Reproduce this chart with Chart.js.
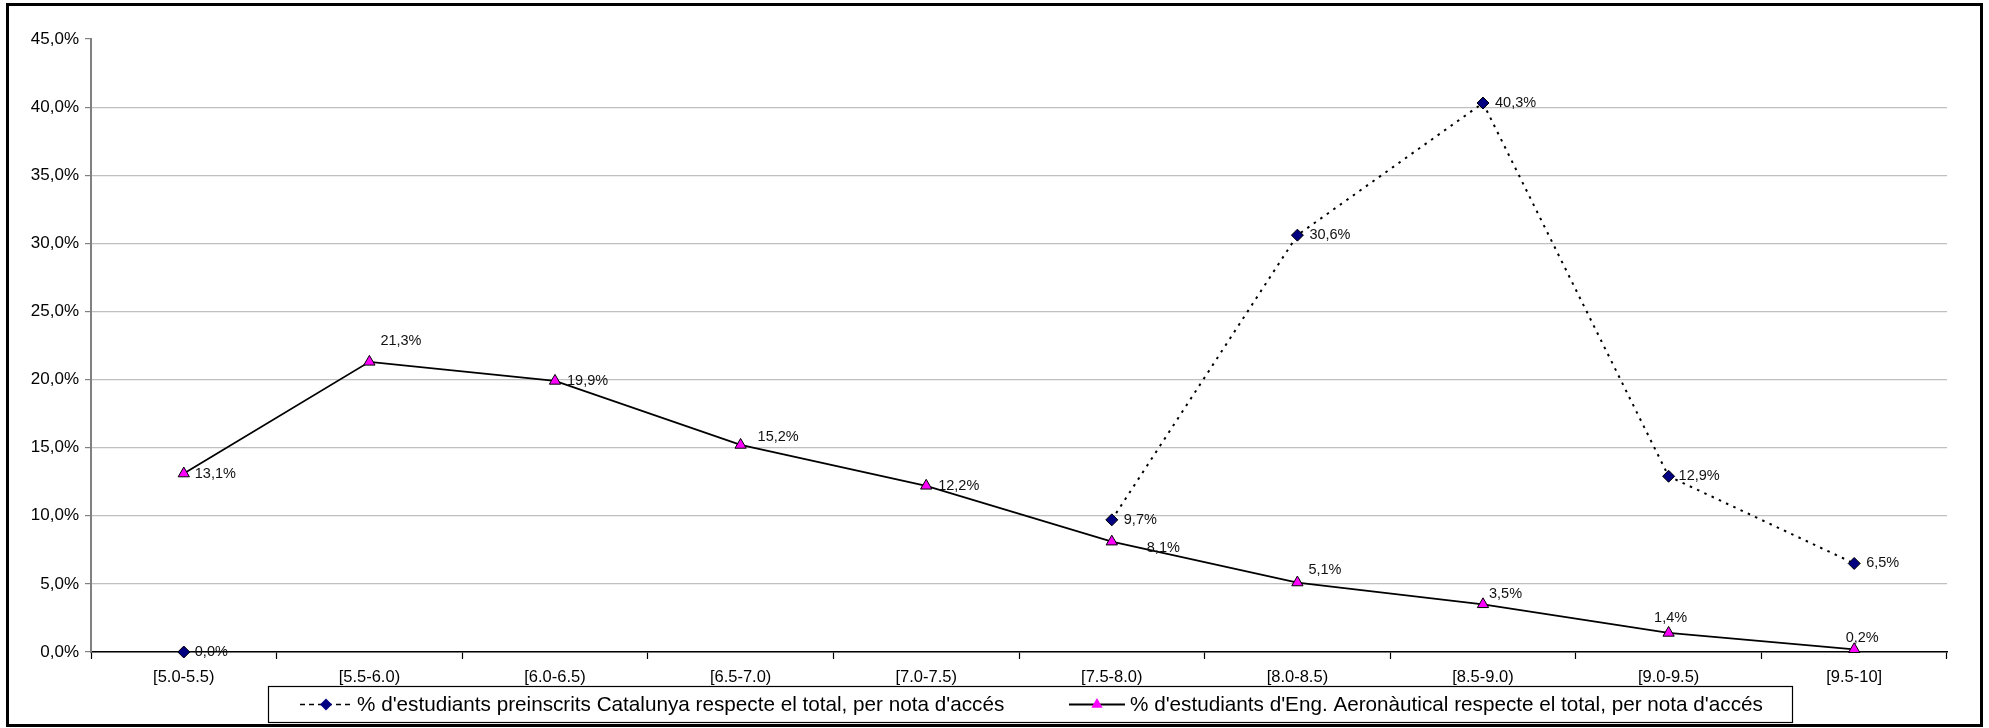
<!DOCTYPE html>
<html><head><meta charset="utf-8">
<script src="https://cdn.jsdelivr.net/npm/chart.js@4.4.1/dist/chart.umd.min.js"></script>
<style>html,body{margin:0;padding:0;background:#fff;}canvas{display:block}</style>
</head><body>
<canvas id="c" width="1989" height="728"></canvas>
<script>
const categories = ['[5.0-5.5)', '[5.5-6.0)', '[6.0-6.5)', '[6.5-7.0)', '[7.0-7.5)', '[7.5-8.0)', '[8.0-8.5)', '[8.5-9.0)', '[9.0-9.5)', '[9.5-10]'];
const catalunyaPct = [0.0, null, null, null, null, 9.7, 30.6, 40.3, 12.9, 6.5];
const aeroPct = [13.1, 21.3, 19.9, 15.2, 12.2, 8.1, 5.1, 3.5, 1.4, 0.2];
const seriesNames = [
  "% d'estudiants preinscrits Catalunya respecte el total, per nota d'accés",
  "% d'estudiants d'Eng. Aeronàutical respecte el total, per nota d'accés"
];
const yMin = 0, yMax = 45, yStep = 5;

const FONT = '"Liberation Sans", Arial, sans-serif';
const fmt = v => v.toFixed(1).replace('.', ',') + '%';

// label placement styles (dx, dy, align) per dataset/point
const labelStyle = [
  [[11,0,'left'],null,null,null,null,[12,0,'left'],[12,0,'left'],[12,0,'left'],[10,0,'left'],[12,0,'left']],
  [[11,0,'left'],[11,-21,'left'],[12,0,'left'],[17,-8,'left'],[12,0,'left'],[35,6,'left'],[11,-13,'left'],[6,-10,'left'],[2,-15,'center'],[8,-11,'center']]
];

const dataLabels = {
  id: 'dataLabels',
  afterDatasetsDraw(chart) {
    const ctx = chart.ctx;
    ctx.save();
    ctx.font = '14.5px ' + FONT;
    ctx.fillStyle = '#111';
    ctx.textBaseline = 'middle';
    chart.data.datasets.forEach((ds, di) => {
      const meta = chart.getDatasetMeta(di);
      meta.data.forEach((pt, i) => {
        const v = ds.data[i];
        if (v === null || v === undefined) return;
        const s = labelStyle[di][i] || [11,0,'left'];
        ctx.textAlign = s[2];
        ctx.fillText(fmt(v), pt.x + s[0], pt.y + s[1]);
      });
    });
    ctx.restore();
  }
};

const frameAndLegend = {
  id: 'frameAndLegend',
  afterDraw(chart) {
    const ctx = chart.ctx;
    ctx.save();
    // legend box
    const bx = 268, by = 686, bw = 1524, bh = 36;
    ctx.fillStyle = '#fff';
    ctx.fillRect(bx, by, bw, bh);
    ctx.strokeStyle = '#000';
    ctx.lineWidth = 1.2;
    ctx.strokeRect(bx + 0.5, by + 0.5, bw, bh);
    const cy = by + bh / 2 + 0.5;
    const items = [
      {x0: 300, x1: 352, tx: 357, ds: 0},
      {x0: 1069, x1: 1125, tx: 1130, ds: 1}
    ];
    items.forEach(it => {
      const d = chart.data.datasets[it.ds];
      ctx.strokeStyle = '#000';
      ctx.lineWidth = it.ds === 0 ? 1.6 : d.borderWidth;
      ctx.setLineDash(it.ds === 0 ? [5, 4] : []);
      ctx.beginPath();
      ctx.moveTo(it.x0, cy);
      ctx.lineTo(it.x1, cy);
      ctx.stroke();
      ctx.setLineDash([]);
      ctx.fillStyle = d.pointBackgroundColor;
      ctx.strokeStyle = d.pointBorderColor;
      ctx.lineWidth = 1;
      const opts = {pointStyle: d.pointStyle, radius: d.pointRadius, rotation: 0};
      Chart.helpers.drawPoint(ctx, opts, (it.x0 + it.x1) / 2, cy);
      ctx.fillStyle = '#000';
      ctx.font = '20.7px ' + FONT;
      ctx.textAlign = 'left';
      ctx.textBaseline = 'middle';
      ctx.fillText(seriesNames[it.ds], it.tx, cy + 1);
    });
    // outer frame
    ctx.strokeStyle = '#000';
    ctx.lineWidth = 3;
    ctx.strokeRect(7.5, 4.5, 1974, 721);
    ctx.restore();
  }
};

new Chart(document.getElementById('c'), {
  type: 'line',
  data: {
    labels: categories,
    datasets: [
      {
        label: seriesNames[0],
        data: catalunyaPct,
        borderColor: '#000',
        borderWidth: 2,
        borderDash: [2.5, 5.5],
        pointStyle: 'rectRot',
        pointRadius: 6,
        pointBackgroundColor: '#000080',
        pointBorderColor: '#000',
        pointBorderWidth: 1,
        spanGaps: false,
        tension: 0,
        clip: false,
        fill: false
      },
      {
        label: seriesNames[1],
        data: aeroPct,
        borderColor: '#000',
        borderWidth: 1.8,
        pointStyle: 'triangle',
        pointRadius: 6.5,
        pointBackgroundColor: '#FF00FF',
        pointBorderColor: '#000',
        pointBorderWidth: 1,
        tension: 0,
        clip: false,
        fill: false
      }
    ]
  },
  options: {
    responsive: false,
    animation: false,
    devicePixelRatio: 1,
    events: [],
    layout: { padding: { left: 0, right: 42, top: 39, bottom: 36 } },
    plugins: { legend: { display: false }, tooltip: { enabled: false }, title: { display: false } },
    scales: {
      x: {
        type: 'category',
        offset: true,
        grid: { offset: true, drawOnChartArea: false, tickLength: 7, tickColor: '#000', tickWidth: 1.2 },
        border: { color: '#000', width: 1.5 },
        ticks: { autoSkip: false, maxRotation: 0, minRotation: 0, padding: 9, color: '#000', font: { family: FONT, size: 16.5 } },
        afterFit(s) { s.height = 40; }
      },
      y: {
        min: yMin, max: yMax,
        ticks: { stepSize: yStep, padding: 6, color: '#000', font: { family: FONT, size: 17 }, callback: v => fmt(v) },
        grid: {
          color: c => (c.tick && c.tick.value === yMax) ? 'rgba(0,0,0,0)' : '#c0c0c0',
          lineWidth: 1.2,
          tickLength: 6,
          tickColor: '#808080',
          tickWidth: 1.2
        },
        border: { color: '#808080', width: 2 },
        afterFit(s) { s.width = 91; }
      }
    }
  },
  plugins: [dataLabels, frameAndLegend]
});
</script>
</body></html>
